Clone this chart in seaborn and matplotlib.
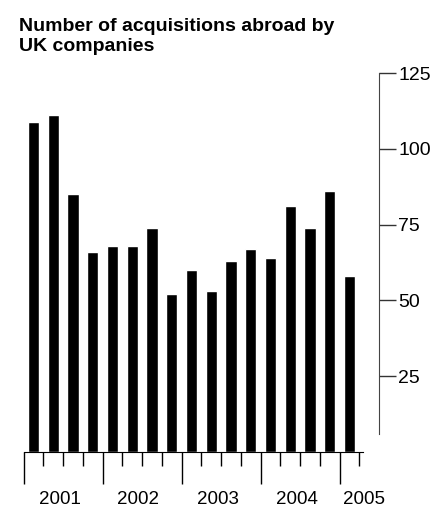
import matplotlib

matplotlib.use("Agg")
import matplotlib.pyplot as plt
import matplotlib.transforms as mtransforms
import numpy as np
import pandas as pd
import seaborn as sns

# quarterly counts, 2001 Q1 .. 2005 Q1
quarters = [f"{y} Q{q}" for y in range(2001, 2005) for q in range(1, 5)] + ["2005 Q1"]
acquisitions = [109, 111, 85, 66, 68, 68, 74, 52, 60, 53, 63, 67, 64, 81, 74, 86, 58]
years = ["2001", "2002", "2003", "2004", "2005"]
y_ticks = [25, 50, 75, 100, 125]

df = pd.DataFrame({"quarter": quarters, "n": acquisitions})

sns.set_style("white")
plt.rcParams["font.family"] = ["Liberation Sans", "DejaVu Sans"]
plt.rcParams["text.color"] = "black"

fig = plt.figure(figsize=(4.32, 5.08), dpi=100)
# axes box in pixels: left 23.6, right 379 (y axis), bottom 452, top 73
W, H = 432, 508
ax = fig.add_axes([23.6 / W, (H - 452) / H, (379 - 23.6) / W, (452 - 73) / H])

sns.barplot(data=df, x="quarter", y="n", color="black", width=0.56,
            saturation=1, ax=ax)
ax.set_xlim(-0.5, -0.5 + (379 - 23.6) / 19.75)
ax.set_ylim(0, 125)
ax.set_xlabel("")
ax.set_ylabel("")

# right-hand value axis
ax.yaxis.tick_right()
ax.set_yticks(y_ticks)
ax.set_yticklabels([str(t) for t in y_ticks], fontsize=14)
ax.tick_params(axis="y", right=True, length=12, width=1, color="#333333",
               pad=2, labelcolor="black")
for s in ["top", "left"]:
    ax.spines[s].set_visible(False)
ax.spines["right"].set_bounds(6, 125)
ax.spines["right"].set_color("#444444")

# bottom axis: quarter ticks, longer at year boundaries
ax.spines["bottom"].set_bounds(-0.5, -0.5 + (363 - 23.6) / 19.75)
ax.spines["bottom"].set_color("black")
n = len(acquisitions)
bounds = np.arange(n + 1) - 0.5
ax.set_xticks(bounds[::4])
ax.set_xticklabels([])
ax.set_xticks([b for i, b in enumerate(bounds) if i % 4], minor=True)
ax.tick_params(axis="x", which="both", bottom=True, direction="out", color="black")
ax.tick_params(axis="x", which="major", length=23, width=1)
ax.tick_params(axis="x", which="minor", length=10, width=1)

# year labels under each group of quarters
trans = mtransforms.blended_transform_factory(ax.transData, fig.transFigure)
label_x = [1.35, 5.3, 9.35, 13.35, 16.75]
for yr, lx in zip(years, label_x):
    fig.text(lx, 1 - 500 / H, yr, transform=trans, ha="center", va="center",
             fontsize=13.5)

fig.text(19 / W, 1 - 18 / H, "Number of acquisitions abroad by\nUK companies",
         ha="left", va="top", fontsize=14, fontweight="bold", linespacing=1.2)

fig.savefig("out.png", dpi=100)
